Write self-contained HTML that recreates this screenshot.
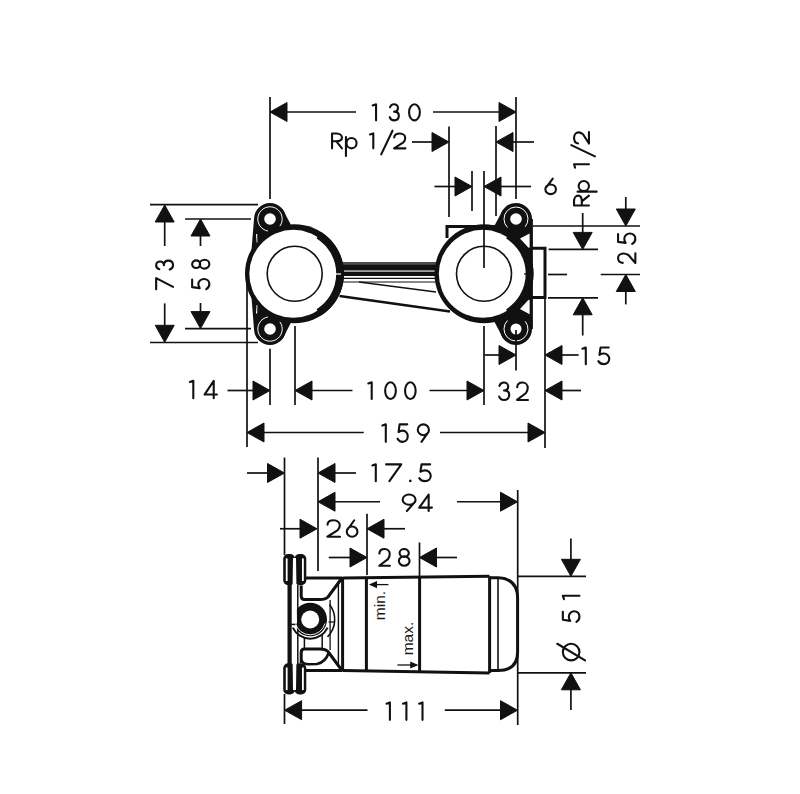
<!DOCTYPE html>
<html><head><meta charset="utf-8"><style>
html,body{margin:0;padding:0;background:#fff;}
svg{display:block;}
text{font-family:"Liberation Sans",sans-serif;fill:#1a1a1a;stroke:none;}
</style></head><body>
<svg width="800" height="794" viewBox="0 0 800 794">
<rect width="800" height="794" fill="#fff"/>
<g fill="#111" stroke="none">
<circle cx="294.5" cy="273.8" r="49.5"/>
<circle cx="270" cy="219" r="16"/><circle cx="270" cy="329" r="16"/>
<polygon points="254,219 251.5,250 251.5,297.6 254,329 270,345 294.5,310 294.5,238 270,203"/>
<polygon points="270,219 282.5,209 290.5,224 294.5,240"/>
<polygon points="270,329 282.5,339 290.5,323.6 294.5,308"/>
<circle cx="484" cy="273.8" r="49.5"/>
<circle cx="516" cy="219" r="16"/><circle cx="516" cy="329" r="16"/>
<rect x="529.5" y="219" width="3.4" height="110"/>
<polygon points="516,219 503.2,209.4 494,226.5 504,240"/>
<polygon points="516,329 503.2,338.6 494,321.1 504,308"/>
<polygon points="508,228 532,226 532,256 518,250"/>
<polygon points="508,319.6 532,321.6 532,291.6 518,297.6"/>
<rect x="340" y="264.2" width="98" height="6.3"/>
<rect x="340" y="271.6" width="98" height="4.4"/>
</g>
<g fill="#fff" stroke="none">
<circle cx="293.3" cy="273.8" r="44"/>
<circle cx="482.8" cy="273.8" r="44"/>
<circle cx="270" cy="219" r="5.8"/><circle cx="270" cy="329" r="5.8"/>
<circle cx="516" cy="219" r="5.8"/><circle cx="516" cy="329" r="5.5"/>
<polygon points="256,234 257.2,234 257.4,242.5 256.6,242.5"/>
<polygon points="256,313.6 257.2,313.6 257.4,305.1 256.6,305.1"/>
</g>
<g fill="none" stroke="#111">
<path d="M318.66,235.13A45.6,45.6 0 0 1 318.66,312.47" stroke-width="7.8"/>
<path d="M508.16,235.13A45.6,45.6 0 0 1 508.16,312.47" stroke-width="7.8"/>
<circle cx="294.7" cy="273.8" r="27.5" stroke-width="1.6"/>
<circle cx="484" cy="273.8" r="27.5" stroke-width="1.6"/>
<line x1="342" y1="262.9" x2="436" y2="262.9" stroke-width="1.5"/>
<line x1="342" y1="278.3" x2="436" y2="278.3" stroke-width="1.3"/>
<line x1="342" y1="282" x2="436" y2="282" stroke-width="1.1"/>
<line x1="359" y1="282" x2="436" y2="292" stroke-width="1.5"/>
<line x1="339.5" y1="296" x2="450" y2="311.5" stroke-width="2.4"/>
<polyline points="447,238 447,226.5 495,226.5" stroke-width="3"/>
<polyline points="531,248.2 545,248.2 545,297.5 531,297.5" stroke-width="3"/>
</g>
<g fill="none" stroke="#fff" stroke-width="1">
<path d="M267.88,231.01A12.2,12.2 0 1 1 279.87,226.17"/>
<path d="M267.88,316.99A12.2,12.2 0 1 0 279.87,321.83"/>
<path d="M507.51,227.49A12,12 0 1 1 525.19,226.71"/>
<path d="M507.51,320.51A12,12 0 1 0 525.19,321.29"/>
<polygon points="520,238.5 529.6,233.4 529.6,247.8 528.3,247.6" stroke="none" fill="#fff"/>
<polygon points="520,309.1 529.6,314.2 529.6,299.8 528.3,300" stroke="none" fill="#fff"/>
</g>
<g stroke="#111" stroke-width="1.3"><line x1="524" y1="274" x2="530" y2="274"/><line x1="335" y1="274" x2="341" y2="274" stroke="#fff"/></g>
<g fill="#111" stroke="none">
<rect x="283.2" y="554.1" width="11.9" height="31.199999999999932" rx="5"/>
<rect x="294.4" y="554.1" width="11.9" height="31.199999999999932" rx="5"/>
<rect x="283.2" y="663.2" width="11.9" height="31.199999999999932" rx="5"/>
<rect x="294.4" y="663.2" width="11.9" height="31.199999999999932" rx="5"/>
<rect x="287.5" y="556" width="4.2" height="137"/>
<circle cx="310.2" cy="619.5" r="16.8"/>
</g>
<g fill="#fff" stroke="none">
<rect x="285.8" y="558.4" width="1.8" height="22.600000000000023"/>
<rect x="302" y="558.4" width="1.8" height="22.600000000000023"/>
<rect x="285.8" y="667.5" width="1.8" height="22.600000000000023"/>
<rect x="302" y="667.5" width="1.8" height="22.600000000000023"/>
<polygon points="293,558 296,558 297,620 296,690 293,690 292,620"/>
<circle cx="310.2" cy="619.5" r="9"/>
</g>
<g fill="none" stroke="#111" stroke-width="3">
<line x1="297.8" y1="585" x2="297.8" y2="664" stroke-width="1.5"/>
<line x1="291" y1="624.4" x2="297" y2="624.4" stroke-width="1.5"/>
<path d="M306,578 L342.5,578"/>
<path d="M306,670.5 L342.5,670.5"/>
<path d="M342,578 L328,597 Q325.5,599.5 320,599.5 L304.5,599.5 Q301.2,599.5 301.2,596 L301.2,585.5"/>
<path d="M342,670.5 L328,651.5 Q325.5,649.0 320,649.0 L304.5,649.0 Q301.2,649.0 301.2,652.5 L301.2,663.0"/>
<path d="M329.51,604.42A24.5,24.5 0 0 1 327.52,636.82" stroke-width="1.6"/>
<path d="M301.5,660 Q302.5,664.3 309,664.3 L317,664 Q325.5,662.5 329,652" stroke-width="2.6"/>
<path d="M324.98,623.46A15.3,15.3 0 0 1 295.42,623.46" stroke-width="0.9" stroke="#fff"/>
<line x1="328.6" y1="622" x2="334" y2="622" stroke-width="1.3"/>
<line x1="304.4" y1="638" x2="304.4" y2="649" stroke-width="1.5"/>
<line x1="322.2" y1="635" x2="322.2" y2="649" stroke-width="1.5"/>
<line x1="330.1" y1="600" x2="330.1" y2="650" stroke-width="1.3"/>
<path d="M327.60,627.61A19.2,19.2 0 0 1 292.80,627.61" stroke-width="2"/>
<line x1="338.4" y1="583" x2="338.4" y2="666" stroke-width="1.4"/>
<line x1="342.6" y1="577" x2="342.6" y2="671.5"/>
<line x1="343" y1="578" x2="489.5" y2="576.3"/>
<line x1="343" y1="670.5" x2="489.5" y2="673"/>
<line x1="366.4" y1="577.6" x2="366.4" y2="671"/>
<line x1="419.6" y1="577" x2="419.6" y2="671.6"/>
<line x1="489.6" y1="576.3" x2="489.6" y2="673"/>
<line x1="498" y1="579" x2="498" y2="670" stroke-width="1.6"/>
<path d="M489.6,577.8 L498,577.8 Q517.6,578.5 517.6,598 L517.6,652 Q517.6,670.5 498,670.5 L489.6,670.5"/>
</g>
<g fill="#111" font-size="15.5" style="font-family:'Liberation Sans',sans-serif">
<text transform="translate(384.6,620.2) rotate(-90)">min.</text>
<text transform="translate(413.4,655.3) rotate(-90)">max.</text>
</g>
<g stroke="#111" stroke-width="1.3" fill="none">
<line x1="371" y1="584.6" x2="388.4" y2="584.6"/><polygon points="370.4,584.6 376.4,582 376.4,587.2" fill="#111"/>
<line x1="397.4" y1="665" x2="416" y2="665"/><polygon points="416.9,665 410.9,662.4 410.9,667.6" fill="#111"/>
</g>
<g stroke="#111" fill="#111">
<line x1="270" y1="97" x2="270" y2="199" stroke-width="1.7"/>
<line x1="516" y1="97" x2="516" y2="199" stroke-width="1.7"/>
<line x1="271" y1="112" x2="356" y2="112" stroke-width="1.7"/>
<line x1="433" y1="112" x2="515" y2="112" stroke-width="1.7"/>
<polygon class="a" points="270.0,112.0 287.0,102.5 287.0,121.5"/>
<polygon class="a" points="516.0,112.0 499.0,102.5 499.0,121.5"/>
<line x1="412" y1="142" x2="433" y2="142" stroke-width="1.7"/>
<polygon class="a" points="449.0,142.0 432.0,132.5 432.0,151.5"/>
<line x1="449" y1="126.6" x2="449" y2="217" stroke-width="1.7"/>
<polygon class="a" points="496.0,142.0 513.0,132.5 513.0,151.5"/>
<line x1="512" y1="142" x2="534" y2="142" stroke-width="1.7"/>
<line x1="496" y1="126" x2="496" y2="216" stroke-width="1.7"/>
<line x1="434.5" y1="186.5" x2="456" y2="186.5" stroke-width="1.7"/>
<polygon class="a" points="472.0,186.5 455.0,177.0 455.0,196.0"/>
<line x1="472" y1="171" x2="472" y2="211" stroke-width="1.7"/>
<polygon class="a" points="484.0,186.5 501.0,177.0 501.0,196.0"/>
<line x1="500" y1="186.5" x2="531" y2="186.5" stroke-width="1.7"/>
<line x1="484" y1="171" x2="484" y2="268" stroke-width="1.7"/>
<line x1="582.7" y1="213" x2="582.7" y2="234" stroke-width="1.7"/>
<polygon class="a" points="582.7,249.4 573.2,232.4 592.2,232.4"/>
<line x1="548.6" y1="249.4" x2="598" y2="249.4" stroke-width="1.7"/>
<line x1="548" y1="297.8" x2="598" y2="297.8" stroke-width="1.7"/>
<polygon class="a" points="582.7,297.8 573.2,314.8 592.2,314.8"/>
<line x1="582.7" y1="313" x2="582.7" y2="335.5" stroke-width="1.7"/>
<line x1="625.8" y1="197" x2="625.8" y2="211" stroke-width="1.7"/>
<polygon class="a" points="625.8,226.0 616.3,209.0 635.3,209.0"/>
<line x1="533" y1="226" x2="640" y2="226" stroke-width="1.7"/>
<line x1="548" y1="274.5" x2="567" y2="274.5" stroke-width="1.7"/>
<line x1="600.7" y1="274.5" x2="640" y2="274.5" stroke-width="1.7"/>
<polygon class="a" points="625.8,274.5 616.3,291.5 635.3,291.5"/>
<line x1="625.8" y1="290" x2="625.8" y2="304.4" stroke-width="1.7"/>
<line x1="150" y1="204.7" x2="258" y2="204.7" stroke-width="1.7"/>
<line x1="150" y1="342.5" x2="258" y2="342.5" stroke-width="1.7"/>
<polygon class="a" points="164.7,205.0 155.2,222.0 174.2,222.0"/>
<line x1="164.7" y1="221" x2="164.7" y2="246" stroke-width="1.7"/>
<line x1="164.7" y1="303.4" x2="164.7" y2="327" stroke-width="1.7"/>
<polygon class="a" points="164.7,342.3 155.2,325.3 174.2,325.3"/>
<line x1="185" y1="219" x2="251" y2="219" stroke-width="1.7"/>
<line x1="185" y1="328.6" x2="251" y2="328.6" stroke-width="1.7"/>
<polygon class="a" points="200.5,219.0 191.0,236.0 210.0,236.0"/>
<line x1="200.5" y1="235" x2="200.5" y2="246" stroke-width="1.7"/>
<line x1="200.5" y1="303" x2="200.5" y2="313" stroke-width="1.7"/>
<polygon class="a" points="200.5,328.6 191.0,311.6 210.0,311.6"/>
<line x1="227.5" y1="390.5" x2="254" y2="390.5" stroke-width="1.7"/>
<polygon class="a" points="270.0,390.5 253.0,381.0 253.0,400.0"/>
<line x1="270" y1="348.75" x2="270" y2="405" stroke-width="1.7"/>
<line x1="295" y1="326" x2="295" y2="405" stroke-width="1.7"/>
<polygon class="a" points="295.0,390.5 312.0,381.0 312.0,400.0"/>
<line x1="311" y1="390.5" x2="352.5" y2="390.5" stroke-width="1.7"/>
<line x1="429.5" y1="390.5" x2="468" y2="390.5" stroke-width="1.7"/>
<polygon class="a" points="484.0,390.5 467.0,381.0 467.0,400.0"/>
<line x1="484" y1="326" x2="484" y2="405" stroke-width="1.7"/>
<polygon class="a" points="545.0,390.5 562.0,381.0 562.0,400.0"/>
<line x1="561" y1="390.5" x2="581" y2="390.5" stroke-width="1.7"/>
<line x1="545" y1="298" x2="545" y2="448" stroke-width="1.7"/>
<line x1="484.5" y1="355" x2="500" y2="355" stroke-width="1.7"/>
<polygon class="a" points="516.0,355.0 499.0,345.5 499.0,364.5"/>
<line x1="516" y1="330" x2="516" y2="370.6" stroke-width="1.7"/>
<polygon class="a" points="545.0,355.0 562.0,345.5 562.0,364.5"/>
<line x1="561" y1="355" x2="578.6" y2="355" stroke-width="1.7"/>
<line x1="247" y1="284" x2="247" y2="447" stroke-width="1.7"/>
<polygon class="a" points="247.0,432.5 264.0,423.0 264.0,442.0"/>
<line x1="263" y1="432.5" x2="363.75" y2="432.5" stroke-width="1.7"/>
<line x1="440" y1="432.5" x2="529" y2="432.5" stroke-width="1.7"/>
<polygon class="a" points="545.0,432.5 528.0,423.0 528.0,442.0"/>
<line x1="247" y1="473" x2="268" y2="473" stroke-width="1.7"/>
<polygon class="a" points="284.5,473.0 267.5,463.5 267.5,482.5"/>
<line x1="284.5" y1="457.5" x2="284.5" y2="555" stroke-width="1.7"/>
<polygon class="a" points="318.0,473.0 335.0,463.5 335.0,482.5"/>
<line x1="334" y1="473" x2="356" y2="473" stroke-width="1.7"/>
<line x1="318" y1="457.5" x2="318" y2="571" stroke-width="1.7"/>
<polygon class="a" points="318.0,501.8 335.0,492.2 335.0,511.2"/>
<line x1="334" y1="501.75" x2="380" y2="501.75" stroke-width="1.7"/>
<line x1="457" y1="501.75" x2="501" y2="501.75" stroke-width="1.7"/>
<polygon class="a" points="517.5,501.8 500.5,492.2 500.5,511.2"/>
<line x1="517.7" y1="490" x2="517.7" y2="725" stroke-width="1.7"/>
<line x1="280" y1="528.75" x2="301" y2="528.75" stroke-width="1.7"/>
<polygon class="a" points="317.0,528.8 300.0,519.2 300.0,538.2"/>
<polygon class="a" points="367.0,528.8 384.0,519.2 384.0,538.2"/>
<line x1="383" y1="528.75" x2="405" y2="528.75" stroke-width="1.7"/>
<line x1="367" y1="513.75" x2="367" y2="575" stroke-width="1.7"/>
<line x1="328.75" y1="557.5" x2="351" y2="557.5" stroke-width="1.7"/>
<polygon class="a" points="367.0,557.5 350.0,548.0 350.0,567.0"/>
<polygon class="a" points="419.5,557.5 436.5,548.0 436.5,567.0"/>
<line x1="435" y1="557.5" x2="457" y2="557.5" stroke-width="1.7"/>
<line x1="419.5" y1="542.5" x2="419.5" y2="577" stroke-width="1.7"/>
<line x1="570.9" y1="538.5" x2="570.9" y2="560" stroke-width="1.7"/>
<polygon class="a" points="570.9,576.3 561.4,559.3 580.4,559.3"/>
<line x1="518" y1="576.3" x2="586" y2="576.3" stroke-width="1.7"/>
<line x1="518" y1="672.8" x2="586" y2="672.8" stroke-width="1.7"/>
<polygon class="a" points="570.9,672.8 561.4,689.8 580.4,689.8"/>
<line x1="570.9" y1="689" x2="570.9" y2="710" stroke-width="1.7"/>
<polygon class="a" points="284.6,710.2 301.6,700.7 301.6,719.7"/>
<line x1="301" y1="710.2" x2="367.5" y2="710.2" stroke-width="1.7"/>
<line x1="444.8" y1="710.2" x2="501" y2="710.2" stroke-width="1.7"/>
<polygon class="a" points="517.5,710.2 500.5,700.7 500.5,719.7"/>
<line x1="284.5" y1="694" x2="284.5" y2="724" stroke-width="1.7"/><path transform="translate(0,121.4)" d="M372.65,-16.02L376.05,-17.15L376.05,-1.05M390.02,-14.09C390.66,-16.18 392.21,-17.15 394.03,-17.15C396.3,-17.15 397.94,-15.54 397.94,-13.45C397.94,-11.35 396.57,-9.9 394.12,-9.74C397.21,-9.74 398.85,-7.97 398.85,-5.56C398.85,-2.66 396.85,-1.05 394.12,-1.05C392.02,-1.05 390.39,-2.34 389.75,-4.27M409.05,-9.1A5.4,8.05 0 1 0 419.85,-9.1A5.4,8.05 0 1 0 409.05,-9.1" fill="none" stroke="#111" stroke-width="2.1" stroke-linecap="round" stroke-linejoin="round"/>
<path transform="translate(0,149.4)" d="M332.05,-1.05L332.05,-15.95L336.5,-15.95C339.97,-15.95 341.95,-13.86 341.95,-11.93C341.95,-9.84 339.97,-8.2 336.5,-8.2L332.05,-8.2M336.21,-8.2L341.95,-1.05M345.95,-12.41L345.95,6.63M346.55,-6.21A5,5.16 0 1 0 356.55,-6.21A5,5.16 0 1 0 346.55,-6.21M369.9,-14.91L373.3,-15.95L373.3,-1.05M381.2,4.93L392.5,-18.7M394.16,-11.93C394.39,-14.61 396.79,-15.95 399.75,-15.95C402.94,-15.95 405.22,-13.86 405.22,-11.48C405.22,-9.69 404.65,-8.5 403.4,-7.01L394.05,-1.05L405.45,-1.05" fill="none" stroke="#111" stroke-width="2.1" stroke-linecap="round" stroke-linejoin="round"/>
<path transform="translate(0,195.2)" d="M552.77,-16.65L546.2,-7.91M545.35,-5.89A5.3,4.84 0 1 0 555.95,-5.89A5.3,4.84 0 1 0 545.35,-5.89" fill="none" stroke="#111" stroke-width="2.1" stroke-linecap="round" stroke-linejoin="round"/>
<path transform="translate(590,206.6) rotate(-90)" d="M1.05,-1.05L1.05,-15.95L5.5,-15.95C8.97,-15.95 10.95,-13.86 10.95,-11.93C10.95,-9.84 8.97,-8.2 5.5,-8.2L1.05,-8.2M5.21,-8.2L10.95,-1.05M14.95,-12.41L14.95,6.63M15.55,-6.21A5,5.16 0 1 0 25.55,-6.21A5,5.16 0 1 0 15.55,-6.21M38.9,-14.91L42.3,-15.95L42.3,-1.05M50.2,4.93L61.5,-18.7M63.16,-11.93C63.39,-14.61 65.79,-15.95 68.75,-15.95C71.94,-15.95 74.22,-13.86 74.22,-11.48C74.22,-9.69 73.65,-8.5 72.4,-7.01L63.05,-1.05L74.45,-1.05" fill="none" stroke="#111" stroke-width="2.1" stroke-linecap="round" stroke-linejoin="round"/>
<path transform="translate(636.4,264) rotate(-90)" d="M1.15,-13.68C1.34,-16.79 3.38,-18.35 5.9,-18.35C8.62,-18.35 10.56,-15.93 10.56,-13.16C10.56,-11.08 10.07,-9.7 9,-7.97L1.05,-1.05L10.75,-1.05M29.93,-18.35L22.13,-18.35L21.09,-10.74C22.55,-11.78 24,-12.12 25.25,-12.12C28.37,-12.12 30.45,-9.35 30.45,-6.59C30.45,-3.13 28.16,-1.05 25.25,-1.05C23.17,-1.05 21.09,-2.26 20.05,-4.16" fill="none" stroke="#111" stroke-width="2.1" stroke-linecap="round" stroke-linejoin="round"/>
<path transform="translate(174.1,290.4) rotate(-90)" d="M1.05,-17.95L12.25,-17.95L3.51,-1.05M21.12,-14.74C21.74,-16.94 23.25,-17.95 25.03,-17.95C27.26,-17.95 28.86,-16.26 28.86,-14.06C28.86,-11.87 27.52,-10.34 25.12,-10.18C28.15,-10.18 29.75,-8.32 29.75,-5.78C29.75,-2.74 27.79,-1.05 25.12,-1.05C23.08,-1.05 21.47,-2.4 20.85,-4.43" fill="none" stroke="#111" stroke-width="2.1" stroke-linecap="round" stroke-linejoin="round"/>
<path transform="translate(210.4,290.2) rotate(-90)" d="M10.64,-18.25L3.07,-18.25L2.06,-10.68C3.47,-11.71 4.89,-12.06 6.1,-12.06C9.13,-12.06 11.15,-9.31 11.15,-6.55C11.15,-3.11 8.93,-1.05 6.1,-1.05C4.08,-1.05 2.06,-2.25 1.05,-4.15M22.17,-14.21A3.83,4.04 0 1 0 29.83,-14.21A3.83,4.04 0 1 0 22.17,-14.21M21.55,-5.87A4.45,4.82 0 1 0 30.45,-5.87A4.45,4.82 0 1 0 21.55,-5.87" fill="none" stroke="#111" stroke-width="2.1" stroke-linecap="round" stroke-linejoin="round"/>
<path transform="translate(0,399.25)" d="M189.9,-17.23L193.3,-18.45L193.3,-1.05M213.73,-1.05L213.73,-18.45L204.55,-4.7L216.95,-4.7" fill="none" stroke="#111" stroke-width="2.1" stroke-linecap="round" stroke-linejoin="round"/>
<path transform="translate(0,400.1)" d="M368.3,-16.67L371.7,-17.85L371.7,-1.05M385.15,-9.45A5.35,8.4 0 1 0 395.85,-9.45A5.35,8.4 0 1 0 385.15,-9.45M405.05,-9.45A5.3,8.4 0 1 0 415.65,-9.45A5.3,8.4 0 1 0 405.05,-9.45" fill="none" stroke="#111" stroke-width="2.1" stroke-linecap="round" stroke-linejoin="round"/>
<path transform="translate(0,401)" d="M499.45,-15.14C500.16,-17.41 501.88,-18.45 503.9,-18.45C506.42,-18.45 508.24,-16.71 508.24,-14.45C508.24,-12.19 506.73,-10.62 504,-10.45C507.43,-10.45 509.25,-8.53 509.25,-5.92C509.25,-2.79 507.03,-1.05 504,-1.05C501.68,-1.05 499.86,-2.44 499.15,-4.53M517.16,-13.75C517.38,-16.88 519.67,-18.45 522.5,-18.45C525.55,-18.45 527.73,-16.01 527.73,-13.23C527.73,-11.14 527.19,-9.75 525.99,-8.01L517.05,-1.05L527.95,-1.05" fill="none" stroke="#111" stroke-width="2.1" stroke-linecap="round" stroke-linejoin="round"/>
<path transform="translate(0,365.2)" d="M582.4,-16.49L585.8,-17.65L585.8,-1.05M608.71,-17.65L600.53,-17.65L599.44,-10.35C600.97,-11.34 602.49,-11.67 603.8,-11.67C607.07,-11.67 609.25,-9.02 609.25,-6.36C609.25,-3.04 606.85,-1.05 603.8,-1.05C601.62,-1.05 599.44,-2.21 598.35,-4.04" fill="none" stroke="#111" stroke-width="2.1" stroke-linecap="round" stroke-linejoin="round"/>
<path transform="translate(0,442.9)" d="M382.4,-17.32L385.8,-18.55L385.8,-1.05M407.24,-18.55L399.59,-18.55L398.57,-10.85C400,-11.9 401.43,-12.25 402.65,-12.25C405.71,-12.25 407.75,-9.45 407.75,-6.65C407.75,-3.15 405.51,-1.05 402.65,-1.05C400.61,-1.05 398.57,-2.27 397.55,-4.2M417.75,-13.12A5.6,5.42 0 1 0 428.95,-13.12A5.6,5.42 0 1 0 417.75,-13.12M428.73,-11.2L421.45,-1.05" fill="none" stroke="#111" stroke-width="2.1" stroke-linecap="round" stroke-linejoin="round"/>
<path transform="translate(0,482.2)" d="M372.4,-16.67L375.8,-17.85L375.8,-1.05M386.05,-17.85L401.25,-17.85L389.39,-1.05M410,-1.3A0.3,0.3 0 1 0 410.6,-1.3A0.3,0.3 0 1 0 410,-1.3M430.18,-17.85L421.55,-17.85L420.4,-10.46C422.01,-11.47 423.62,-11.8 425,-11.8C428.45,-11.8 430.75,-9.11 430.75,-6.43C430.75,-3.07 428.22,-1.05 425,-1.05C422.7,-1.05 420.4,-2.23 419.25,-4.07" fill="none" stroke="#111" stroke-width="2.1" stroke-linecap="round" stroke-linejoin="round"/>
<path transform="translate(0,512.1)" d="M402.65,-12.44A6.45,5.12 0 1 0 415.55,-12.44A6.45,5.12 0 1 0 402.65,-12.44M415.29,-10.62L406.91,-1.05M428.65,-1.05L428.65,-17.55L419.25,-4.52L431.95,-4.52" fill="none" stroke="#111" stroke-width="2.1" stroke-linecap="round" stroke-linejoin="round"/>
<path transform="translate(0,537.8)" d="M327.48,-13.1C327.73,-16.07 330.4,-17.55 333.7,-17.55C337.26,-17.55 339.8,-15.24 339.8,-12.6C339.8,-10.62 339.16,-9.3 337.76,-7.65L327.35,-1.05L340.05,-1.05M354.24,-17.55L347.61,-8.31M346.75,-6.17A5.35,5.12 0 1 0 357.45,-6.17A5.35,5.12 0 1 0 346.75,-6.17" fill="none" stroke="#111" stroke-width="2.1" stroke-linecap="round" stroke-linejoin="round"/>
<path transform="translate(0,566.8)" d="M379.36,-13.24C379.57,-16.25 381.82,-17.75 384.6,-17.75C387.6,-17.75 389.74,-15.41 389.74,-12.74C389.74,-10.74 389.2,-9.4 388.02,-7.73L379.25,-1.05L389.95,-1.05M399.6,-13.83A4.6,3.92 0 1 0 408.8,-13.83A4.6,3.92 0 1 0 399.6,-13.83M398.85,-5.73A5.35,4.68 0 1 0 409.55,-5.73A5.35,4.68 0 1 0 398.85,-5.73" fill="none" stroke="#111" stroke-width="2.1" stroke-linecap="round" stroke-linejoin="round"/>
<path transform="translate(580.5,661.4) rotate(-90)" d="M1.05,-9.35A8.3,8.3 0 1 0 17.65,-9.35A8.3,8.3 0 1 0 1.05,-9.35M1.05,4.55L17.65,-23.25M49.62,-17.65L41.59,-17.65L40.52,-10.35C42.02,-11.34 43.52,-11.67 44.8,-11.67C48.01,-11.67 50.15,-9.02 50.15,-6.36C50.15,-3.04 47.8,-1.05 44.8,-1.05C42.66,-1.05 40.52,-2.21 39.45,-4.04M62.2,-16.49L65.6,-17.65L65.6,-1.05" fill="none" stroke="#111" stroke-width="2.1" stroke-linecap="round" stroke-linejoin="round"/>
<path transform="translate(0,720.9)" d="M386.5,-17.23L389.9,-18.45L389.9,-1.05M403,-17.23L406.4,-18.45L406.4,-1.05M419.1,-17.23L422.5,-18.45L422.5,-1.05" fill="none" stroke="#111" stroke-width="2.1" stroke-linecap="round" stroke-linejoin="round"/>
</g>
</svg>
</body></html>
